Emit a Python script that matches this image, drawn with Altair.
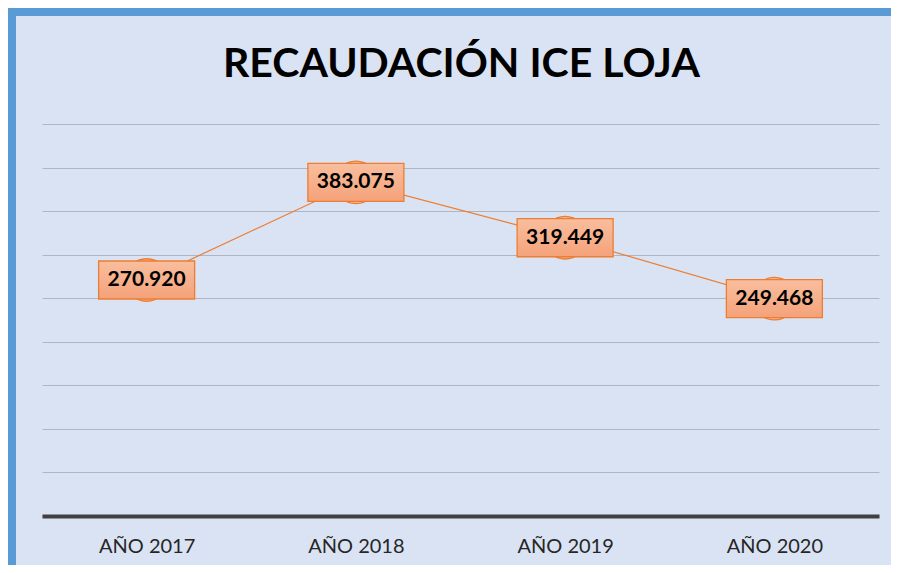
import altair as alt
import pandas as pd

years = ["AÑO 2017", "AÑO 2018", "AÑO 2019", "AÑO 2020"]
values = [270920, 383075, 319449, 249468]
labels = ["270.920", "383.075", "319.449", "249.468"]
title_text = "RECAUDACIÓN ICE LOJA"

df = pd.DataFrame({"year": years, "value": values, "label": labels})
tdf = pd.DataFrame({"t": [title_text]})

W, H = 837, 392
PL, PT, PR, PB = 34, 116, 12, 49

x = alt.X("year:N", sort=years, title=None,
          scale=alt.Scale(padding=0.5),
          axis=alt.Axis(labelAngle=0, labelFont="Lato", labelFontSize=20,
                        labelColor="#262626", labelPadding=20, ticks=False,
                        domainColor="#404040", domainWidth=4, grid=False))
y = alt.Y("value:Q", title=None,
          scale=alt.Scale(domain=[0, 450000], nice=False),
          axis=alt.Axis(values=list(range(0, 450001, 50000)), labels=False,
                        ticks=False, domain=False, grid=True,
                        gridColor="#AFB6C2", gridWidth=1.2))

base = alt.Chart(df).encode(x=x, y=y)

line = base.mark_line(color="#ED7D31", strokeWidth=1.2)
dots = base.mark_point(shape="circle", filled=True, size=1810,
                       fill="#F8B995", stroke="#ED7D31", strokeWidth=1.3,
                       opacity=1)
grad = alt.LinearGradient(gradient="linear",
                          stops=[alt.GradientStop(color="#F9BE9E", offset=0),
                                 alt.GradientStop(color="#F4A27A", offset=1)],
                          x1=0, x2=0, y1=0, y2=1)
boxes = base.mark_point(shape="M-1,-0.396H1V0.396H-1Z", filled=True,
                        size=96 * 96, fill=grad, stroke="#ED7D31",
                        strokeWidth=1.3, opacity=1)
texts = base.mark_text(font="Lato", fontSize=21, fontWeight="bold",
                       color="#000000", baseline="middle").encode(text="label:N")

title = alt.Chart(tdf).mark_text(font="Lato", fontSize=41, fontWeight="bold",
                                 color="#000000", baseline="alphabetic",
                                 align="center").encode(
    x=alt.value(W / 2 + 1), y=alt.value(-47), text="t:N")

left_border = alt.Chart(tdf).mark_rule(color="#5B9BD5", strokeWidth=8).encode(
    x=alt.value(-30), y=alt.value(-PT), y2=alt.value(H + PB))
top_border = alt.Chart(tdf).mark_rule(color="#5B9BD5", strokeWidth=8).encode(
    y=alt.value(-112), x=alt.value(-PL), x2=alt.value(W + PR))

chart = alt.layer(line, dots, boxes, texts, title, left_border, top_border).properties(
    width=W, height=H,
    autosize=alt.AutoSizeParams(type="none"),
    padding={"left": PL, "top": PT, "right": PR, "bottom": PB},
    background="#DAE3F3",
).configure_view(stroke=None)

chart.save("out.html", embed_options={"renderer": "svg", "actions": False})
